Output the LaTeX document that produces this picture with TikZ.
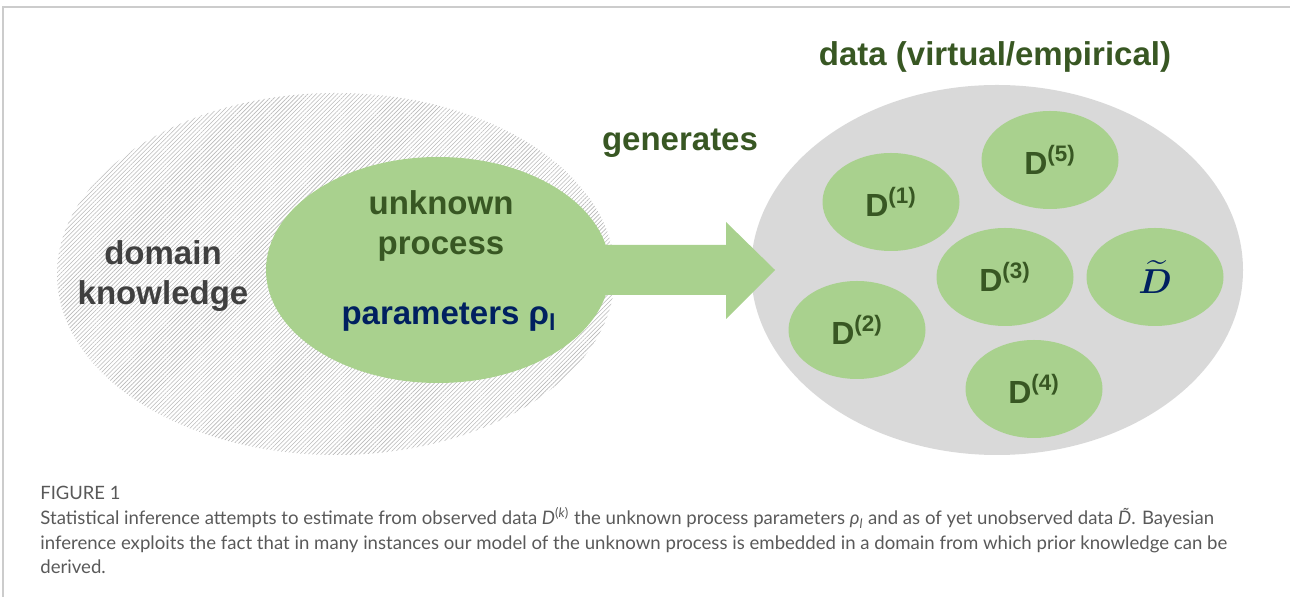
\documentclass[tikz,border=0pt]{standalone}
\usepackage{amsmath}
\usepackage{bm}
\usepackage{fontspec}
\setmainfont{Liberation Sans}
\newfontfamily\capfont{Lato}
\usetikzlibrary{shapes.geometric, patterns.meta, positioning}
\definecolor{procgreen}{HTML}{A9D18E}
\definecolor{darkgreen}{HTML}{385723}
\definecolor{navyblue}{HTML}{002060}
\definecolor{datagray}{HTML}{D9D9D9}
\definecolor{textgray}{HTML}{404040}
\definecolor{capgray}{HTML}{595959}
\definecolor{framegray}{HTML}{CCCCCC}
\tikzset{blob/.style={ellipse, inner sep=0pt},
	hatched/.style={blob, pattern={Lines[angle=45, distance=1.5pt, line width=0.3pt]},
		pattern color=gray!55},
	dataset/.style={blob, fill=procgreen, minimum width=68.5pt, minimum height=49pt,
		text=darkgreen, font=\fontsize{16}{19}\selectfont\bfseries},
	lbl/.style={font=\fontsize{16.5}{19.75}\selectfont\bfseries},
	figlabel/.style={font=\capfont\fontsize{9.2}{11}\selectfont, text=capgray, inner sep=0pt},
	captext/.style={font=\capfont\fontsize{9.3}{12.25}\selectfont, text=capgray,
		align=left, inner sep=0pt}}

\begin{document}
\begin{tikzpicture}[x=0.5pt, y=-0.5pt]
    \useasboundingbox (0,0) rectangle (1290,597);
    \draw[framegray, line width=0.75pt] (3,597) -- (3,7) -- (1290,7);

    \node[hatched, minimum width=279pt, minimum height=181pt] (domain) at (336,274) {};
    \node[blob, fill=datagray, minimum width=246pt, minimum height=185pt] (data) at (997,270) {};
    \coordinate (tip) at (775,270);
    \fill[procgreen] (tip) -- ++(-49,-48) -- ++(0,23) -- ++(-126,0) -- ++(0,50)
        -- ++(126,0) -- ++(0,24) -- cycle;
    \node[blob, fill=procgreen, minimum width=172pt, minimum height=113pt] (proc) at (438,270) {};

    \foreach \nm/\px/\py/\idx in {d1/891/202/1, d5/1050/160/5, d3/1005/277/3, d2/857/330/2, d4/1034/389/4}
        \node[dataset] (\nm) at (\px,\py) {D\textsuperscript{(\idx)}};
    \node[dataset, text=navyblue] (dt) at (1155,277) {$\widetilde{\bm{D}}$};

    \node[lbl, text=textgray, align=center] (dk) at (163,276) {domain\\knowledge};
    \node[lbl, text=darkgreen, align=center] (up) at (441,226) {unknown\\process};
    \node[lbl, text=navyblue, anchor=base] (par) at (449,325) {parameters ρ\textsubscript{l}};
    \node[lbl, text=darkgreen] (gen) at (680,143) {generates};
    \node[lbl, text=darkgreen] (title) at (995,57) {data (virtual/empirical)};

    \node[figlabel, anchor=base west] (figno) at (40,500) {FIGURE 1};
    \node[captext, below=3pt of figno.south west, anchor=north west] (cap) {Statistical inference attempts to estimate from observed data \textit{D}\textsuperscript{(\textit{k})} the unknown process parameters \textit{ρ}\textsubscript{\textit{l}} and as of yet unobserved data \textit{\~{D}}. Bayesian\\
        inference exploits the fact that in many instances our model of the unknown process is embedded in a domain from which prior knowledge can be\\
        derived.};
\end{tikzpicture}
\end{document}
